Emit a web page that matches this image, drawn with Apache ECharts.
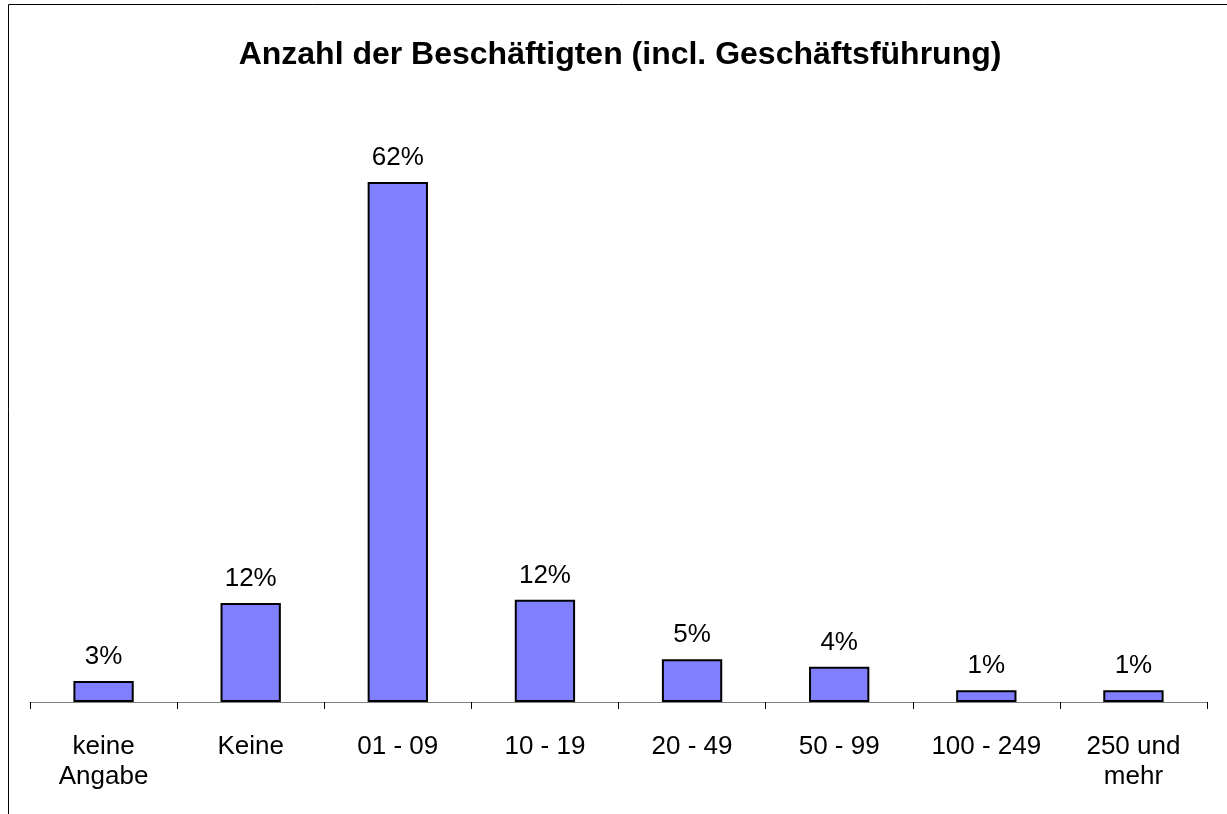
<!DOCTYPE html>
<html><head><meta charset="utf-8">
<script src="https://cdn.jsdelivr.net/npm/echarts@6/dist/echarts.min.js"></script>
<style>html,body{margin:0;padding:0;background:#fff}#c{width:1227px;height:814px}</style>
</head><body><div id="c"></div>
<script>
const titleText = 'Anzahl der Beschäftigten (incl. Geschäftsführung)';
const categories = ['keine\nAngabe', 'Keine', '01 - 09', '10 - 19', '20 - 49', '50 - 99', '100 - 249', '250 und\nmehr'];
const values = [2.5, 11.8, 62, 12.2, 5.1, 4.2, 1.4, 1.4];

const FF = 'Liberation Sans, Arial, sans-serif';
const chart = echarts.init(document.getElementById('c'), null, {renderer: 'canvas'});
chart.setOption({
  animation: false,
  backgroundColor: '#fff',
  textStyle: {fontFamily: FF},
  title: {
    text: titleText, left: 615, top: 34, textAlign: 'center',
    textStyle: {fontSize: 32, fontWeight: 'bold', color: '#000', fontFamily: FF}
  },
  graphic: [{
    type: 'rect', shape: {x: 8.5, y: 4.5, width: 1230, height: 830},
    style: {fill: 'none', stroke: '#000', lineWidth: 1}, silent: true, z: 100
  }],
  grid: {left: 30, right: 20, top: 115, bottom: 112, containLabel: false},
  xAxis: {
    type: 'category', data: categories,
    axisLine: {lineStyle: {color: '#808080', width: 1}},
    axisTick: {show: true, length: 7, lineStyle: {color: '#000'}},
    axisLabel: {fontSize: 26, color: '#000', lineHeight: 30, margin: 30, interval: 0, fontFamily: FF}
  },
  yAxis: {type: 'value', min: 0, max: 70, show: false, splitLine: {show: false}},
  series: [{
    type: 'bar', data: values, barWidth: '41%',
    itemStyle: {color: '#8080FF', borderColor: '#000', borderWidth: 2},
    label: {show: true, position: 'top', distance: 11, fontSize: 26, color: '#000', fontFamily: FF,
      formatter: p => Math.round(p.value) + '%'}
  }]
});
</script></body></html>
